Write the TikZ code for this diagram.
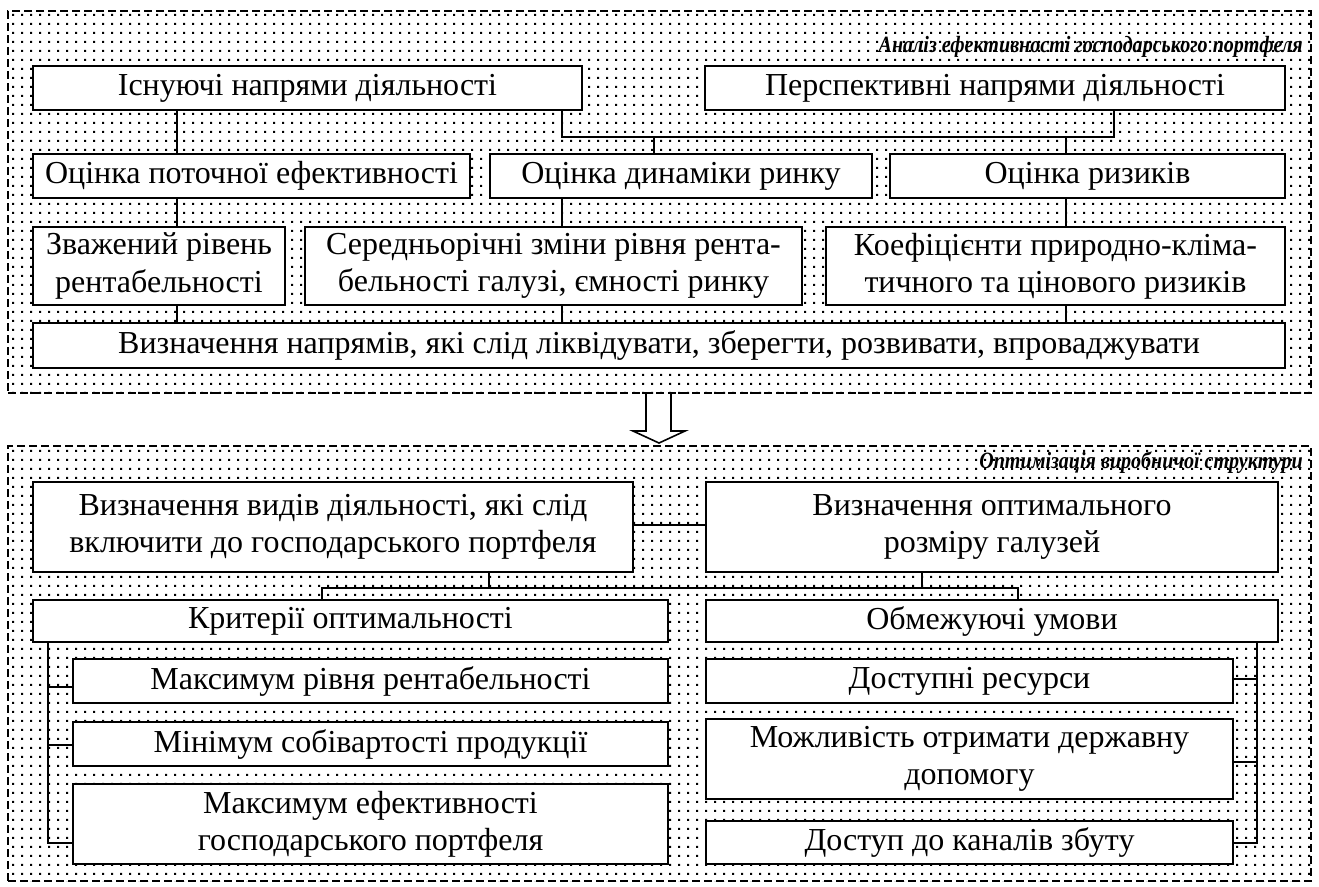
\documentclass[tikz,border=0pt]{standalone}
\usepackage{fontspec}
\setmainfont{Liberation Serif}
\newfontfamily\headfont[FakeStretch=0.86]{Liberation Serif}
\usetikzlibrary{fit,patterns}

% sparse square dots used as the background of the two panels
\pgfdeclarepatternformonly{finedots}{\pgfqpoint{0pt}{0pt}}{\pgfqpoint{6.8pt}{6.8pt}}{\pgfqpoint{6.8pt}{6.8pt}}{%
  \pgfpathrectangle{\pgfqpoint{2.5pt}{2.5pt}}{\pgfqpoint{1.8pt}{1.8pt}}\pgfusepath{fill}}

\tikzset{
  panel/.style={draw, dash pattern=on 6pt off 3pt, line width=1pt, pattern=finedots, inner sep=0pt},
  box/.style={draw, line width=1.4pt, fill=white, inner sep=0pt, align=center,
              font=\fontsize{24}{28}\selectfont},
  link/.style={line width=1pt},
  heading/.style={font=\headfont\fontsize{17.5}{19}\selectfont\bfseries\itshape, inner sep=0pt, anchor=base east},
  hollowarrow/.style={line width=1.2pt, fill=white, line join=miter}
}

% box given by its corners (in pixel units of the picture)
\newcommand\putbox[6]{%
  \node[box, minimum width={(#4-#2)*0.75pt}, minimum height={(#5-#3)*0.75pt}]
    (#1) at ({(#2+#4)/2},{(#3+#5)/2}) {#6};}

\begin{document}
\begin{tikzpicture}[x=0.75pt, y=-0.75pt]
\useasboundingbox (0,0) rectangle (1319,886);

% ---------- panels ----------
\node[panel, fit={(8,11)(1311,393)}] (top) {};
\node[panel, fit={(8,446)(1311,881)}] (bottom) {};

\node[heading] (t1) at (1303,52) {Аналіз ефективності господарського портфеля};
\node[heading] (t2) at (1303,468) {Оптимізація виробничої структури};

% ---------- upper panel ----------
\putbox{a1}{33}{66}{582}{110}{Існуючі напрями діяльності}
\putbox{a2}{705}{66}{1285}{110}{Перспективні напрями діяльності}

\putbox{b1}{33}{154}{470}{198}{Оцінка поточної ефективності}
\putbox{b2}{490}{154}{872}{198}{Оцінка динаміки ринку}
\putbox{b3}{890}{154}{1285}{198}{Оцінка ризиків}

\putbox{c1}{33}{227}{285}{305}{Зважений рівень\\рентабельності}
\putbox{c2}{305}{227}{802}{305}{Середньорічні зміни рівня рента-\\бельності галузі, ємності ринку}
\putbox{c3}{826}{227}{1285}{305}{Коефіцієнти природно-кліма-\\тичного та цінового ризиків}

\putbox{d}{33}{323}{1285}{368}{Визначення напрямів, які слід ліквідувати, зберегти, розвивати, впроваджувати}

\coordinate (xL) at (177,0);
\coordinate (xM) at (562,0);
\coordinate (xR) at (1066,0);
\coordinate (xB2) at (654,0);
\coordinate (jA) at (562,137);
\coordinate (jB) at (1114,137);

\draw[link] (a1.south -| xL) -- (b1.north -| xL);
\draw[link] (b1.south -| xL) -- (c1.north -| xL);
\draw[link] (c1.south -| xL) -- (d.north -| xL);
\draw[link] (a1.south -| jA) -- (jA) -- (jB) -- (a2.south -| jB);
\draw[link] (jA -| xB2) -- (b2.north -| xB2);
\draw[link] (jA -| xR) -- (b3.north -| xR);
\draw[link] (b2.south -| xM) -- (c2.north -| xM);
\draw[link] (c2.south -| xM) -- (d.north -| xM);
\draw[link] (b3.south -| xR) -- (c3.north -| xR);
\draw[link] (c3.south -| xR) -- (d.north -| xR);

% ---------- transition arrow ----------
\draw[hollowarrow] (646,394) -- (646,431) -- (633,431) -- (659,443) -- (685,431) -- (671,431) -- (671,394);

% ---------- lower panel ----------
\putbox{e1}{33}{482}{633}{572}{Визначення видів діяльності, які слід\\включити до господарського портфеля}
\putbox{e2}{706}{482}{1278}{572}{Визначення оптимального\\розміру галузей}

\putbox{f1}{33}{600}{668}{642}{Критерії оптимальності}
\putbox{f2}{706}{600}{1278}{642}{Обмежуючі умови}

\putbox{g1}{73}{659}{668}{703}{Максимум рівня рентабельності}
\putbox{g2}{73}{722}{668}{766}{Мінімум собівартості продукції}
\putbox{g3}{73}{784}{668}{864}{Максимум ефективності\\господарського портфеля}

\putbox{h1}{706}{659}{1233}{703}{Доступні ресурси}
\putbox{h2}{706}{719}{1233}{799}{Можливість отримати державну\\допомогу}
\putbox{h3}{706}{821}{1233}{864}{Доступ до каналів збуту}

\coordinate (yE) at (0,525);
\draw[link] (e1.east |- yE) -- (e2.west |- yE);

\coordinate (kL) at (322,588);
\coordinate (kR) at (1018,588);
\coordinate (xE1) at (489,0);
\coordinate (xE2) at (922,0);
\draw[link] (f1.north -| kL) -- (kL) -- (kR) -- (f2.north -| kR);
\draw[link] (e1.south -| xE1) -- (kL -| xE1);
\draw[link] (e2.south -| xE2) -- (kL -| xE2);

\coordinate (bl) at (48,843);
\coordinate (sg1) at (48,687);
\coordinate (sg2) at (48,745);
\draw[link] (f1.south -| bl) -- (bl) -- (g3.west |- bl);
\draw[link] (sg1) -- (g1.west |- sg1);
\draw[link] (sg2) -- (g2.west |- sg2);

\coordinate (br) at (1257,843);
\coordinate (sh1) at (1257,679);
\coordinate (sh2) at (1257,762);
\draw[link] (f2.south -| br) -- (br) -- (h3.east |- br);
\draw[link] (sh1) -- (h1.east |- sh1);
\draw[link] (sh2) -- (h2.east |- sh2);
\end{tikzpicture}
\end{document}
